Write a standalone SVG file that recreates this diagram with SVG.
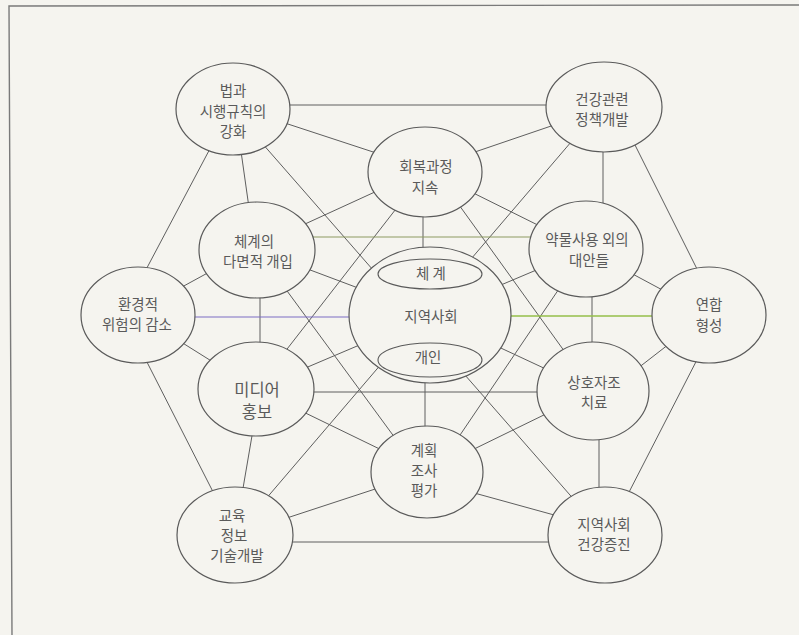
<svg xmlns="http://www.w3.org/2000/svg" width="799" height="635" viewBox="0 0 799 635">
<style>
.bg{fill:#f5f4ef}
.frame{fill:none;stroke:#7a7a7a;stroke-width:1.4}
.ln{stroke:#5e5e5e;stroke-width:1;fill:none}
.purple{stroke:#7c6cc4;stroke-width:1.2}
.green{stroke:#95bf4a;stroke-width:1.4}
.olive{stroke:#8e9a62;stroke-width:1.2}
.node{fill:#f5f4ef;stroke:#5a5a5a;stroke-width:1.2}
.inner{fill:#f5f4ef;stroke:#5a5a5a;stroke-width:1.1}
text{font-family:"Noto Sans CJK KR","Noto Sans",sans-serif;font-size:14.5px;fill:#5a5a5a;text-anchor:middle}
.big{font-size:16.5px}
</style>
<rect class="bg" x="0" y="0" width="799" height="635"/>
<path class="frame" d="M799,5 L9,6 L12,635"/>
<g id="connectors">
<line class="ln" x1="233" y1="105" x2="604" y2="105"/>
<line class="ln" x1="233" y1="106" x2="425" y2="169"/>
<line class="ln" x1="235" y1="109" x2="255" y2="250"/>
<line class="ln" x1="231" y1="109" x2="122" y2="315"/>
<line class="ln" x1="233" y1="110" x2="605" y2="535"/>
<line class="ln" x1="604" y1="108" x2="425" y2="169"/>
<line class="ln" x1="603" y1="107" x2="603" y2="249"/>
<line class="ln" x1="616" y1="107" x2="720" y2="315"/>
<line class="ln" x1="601" y1="107" x2="235" y2="535"/>
<line class="ln" x1="425" y1="169" x2="257" y2="246"/>
<line class="ln" x1="425" y1="169" x2="586" y2="249"/>
<line class="ln" x1="423" y1="172" x2="423" y2="315"/>
<line class="ln" x1="427" y1="169" x2="256" y2="389"/>
<line class="ln" x1="436" y1="173" x2="593" y2="391"/>
<line class="ln olive" x1="257" y1="237" x2="586" y2="237"/>
<line class="ln" x1="257" y1="246" x2="138" y2="311"/>
<line class="ln" x1="257" y1="250" x2="430" y2="315"/>
<line class="ln" x1="260" y1="250" x2="260" y2="389"/>
<line class="ln" x1="257" y1="250" x2="420" y2="472"/>
<line class="ln" x1="586" y1="249" x2="430" y2="315"/>
<line class="ln" x1="586" y1="249" x2="709" y2="315"/>
<line class="ln" x1="592" y1="249" x2="592" y2="391"/>
<line class="ln" x1="586" y1="249" x2="435" y2="472"/>
<line class="ln purple" x1="138" y1="317" x2="430" y2="317"/>
<line class="ln" x1="138" y1="315" x2="256" y2="389"/>
<line class="ln" x1="123" y1="315" x2="235" y2="535"/>
<line class="ln green" x1="430" y1="316" x2="709" y2="316"/>
<line class="ln" x1="430" y1="315" x2="256" y2="389"/>
<line class="ln" x1="430" y1="315" x2="593" y2="391"/>
<line class="ln" x1="425" y1="315" x2="425" y2="472"/>
<line class="ln" x1="709" y1="313" x2="593" y2="403"/>
<line class="ln" x1="720" y1="315" x2="607" y2="535"/>
<line class="ln" x1="256" y1="392" x2="593" y2="392"/>
<line class="ln" x1="256" y1="389" x2="427" y2="472"/>
<line class="ln" x1="260" y1="389" x2="235" y2="535"/>
<line class="ln" x1="593" y1="391" x2="427" y2="472"/>
<line class="ln" x1="599" y1="391" x2="599" y2="535"/>
<line class="ln" x1="427" y1="472" x2="235" y2="535"/>
<line class="ln" x1="427" y1="480" x2="605" y2="529"/>
<line class="ln" x1="235" y1="542" x2="605" y2="542"/>
</g>
<g id="node-law">
<ellipse class="node" cx="233" cy="109" rx="57" ry="46"/>
<text x="233" y="96">법과</text>
<text x="233" y="117">시행규칙의</text>
<text x="233" y="137">강화</text>
</g>
<g id="node-policy">
<ellipse class="node" cx="604" cy="107" rx="58" ry="45"/>
<text x="602" y="105">건강관련</text>
<text x="602" y="125">정책개발</text>
</g>
<g id="node-recovery">
<ellipse class="node" cx="425" cy="172" rx="57" ry="45"/>
<text x="426" y="172">회복과정</text>
<text x="425" y="193">지속</text>
</g>
<g id="node-system">
<ellipse class="node" cx="257" cy="250" rx="58" ry="48"/>
<text x="254" y="247">체계의</text>
<text x="258" y="267">다면적 개입</text>
</g>
<g id="node-alternatives">
<ellipse class="node" cx="586" cy="249" rx="57" ry="48"/>
<text x="587" y="245">약물사용 외의</text>
<text x="589" y="266">대안들</text>
</g>
<g id="node-environment">
<ellipse class="node" cx="138" cy="315" rx="57" ry="48"/>
<text x="138" y="310">환경적</text>
<text x="137" y="330">위험의 감소</text>
</g>
<g id="node-community">
<ellipse class="node" cx="430" cy="315" rx="81" ry="68"/>
<ellipse class="inner" cx="430" cy="274" rx="52" ry="15"/>
<ellipse class="inner" cx="430" cy="360" rx="52" ry="17"/>
<text x="431" y="279">체 계</text>
<text x="431" y="322">지역사회</text>
<text x="428" y="363">개인</text>
</g>
<g id="node-coalition">
<ellipse class="node" cx="709" cy="315" rx="57" ry="48"/>
<text x="709" y="310">연합</text>
<text x="709" y="331">형성</text>
</g>
<g id="node-media">
<ellipse class="node" cx="256" cy="389" rx="58" ry="47"/>
<text class="big" x="257" y="396">미디어</text>
<text class="big" x="257" y="418">홍보</text>
</g>
<g id="node-selfhelp">
<ellipse class="node" cx="593" cy="391" rx="56" ry="49"/>
<text x="594" y="388">상호자조</text>
<text x="594" y="408">치료</text>
</g>
<g id="node-planning">
<ellipse class="node" cx="427" cy="472" rx="56" ry="46"/>
<text x="424" y="456">계획</text>
<text x="424" y="476">조사</text>
<text x="424" y="496">평가</text>
</g>
<g id="node-education">
<ellipse class="node" cx="235" cy="535" rx="58" ry="48"/>
<text x="232" y="521">교육</text>
<text x="234" y="541">정보</text>
<text x="237" y="561">기술개발</text>
</g>
<g id="node-health">
<ellipse class="node" cx="605" cy="535" rx="57" ry="48"/>
<text x="604" y="530">지역사회</text>
<text x="604" y="550">건강증진</text>
</g>
</svg>
